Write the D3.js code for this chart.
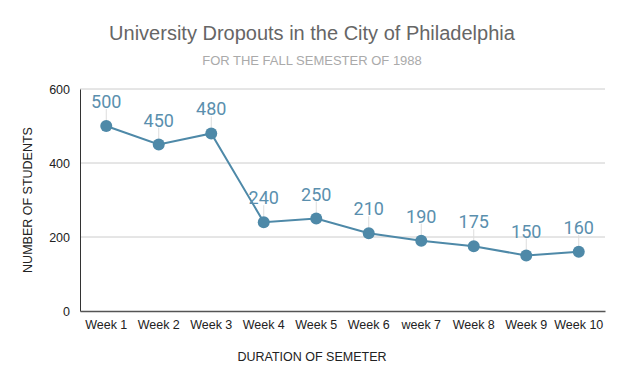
<!DOCTYPE html>
<html>
<head>
<meta charset="utf-8">
<script src="https://cdn.jsdelivr.net/npm/d3@7"></script>
<style>
  body { margin: 0; background: #fff; }
  svg { display: block; }
</style>
</head>
<body>
<div id="chart"></div>
<script>
// chart data
var weeks = ["Week 1", "Week 2", "Week 3", "Week 4", "Week 5", "Week 6", "week 7", "Week 8", "Week 9", "Week 10"];
var dropouts = [500, 450, 480, 240, 250, 210, 190, 175, 150, 160];
var yTicks = [0, 200, 400, 600];

var svgWidth = 624, svgHeight = 385;
var margin = { top: 89, right: 19, bottom: 74, left: 80 };
var width = svgWidth - margin.left - margin.right;
var height = svgHeight - margin.top - margin.bottom;

var svg = d3.select("#chart").append("svg")
  .attr("width", svgWidth)
  .attr("height", svgHeight);

// titles
svg.append("text")
  .attr("x", 312).attr("y", 40)
  .attr("text-anchor", "middle")
  .style("font-family", "Arial, 'Liberation Sans', sans-serif")
  .style("font-size", "20px")
  .style("fill", "#666")
  .text("University Dropouts in the City of Philadelphia");

svg.append("text")
  .attr("x", 312).attr("y", 65)
  .attr("text-anchor", "middle")
  .style("font-family", "Arial, 'Liberation Sans', sans-serif")
  .style("font-size", "13px")
  .style("fill", "#aaa")
  .text("FOR THE FALL SEMESTER OF 1988");

var chartGroup = svg.append("g")
  .attr("transform", `translate(${margin.left}, ${margin.top})`);

var x = d3.scaleBand().domain(weeks).range([0, width]);
var y = d3.scaleLinear().domain([0, 600]).range([height, 0]);

// gridlines
chartGroup.selectAll(".grid")
  .data(yTicks.filter(d => d > 0))
  .enter().append("line")
  .attr("x1", 0).attr("x2", width)
  .attr("y1", d => y(d)).attr("y2", d => y(d))
  .attr("stroke", "#ccc").attr("stroke-width", 1);

// y axis
var leftAxis = d3.axisLeft(y).tickValues(yTicks).tickSize(0).tickPadding(10);
var yAxis = chartGroup.append("g").call(leftAxis);
yAxis.select(".domain").attr("stroke", "#333");
yAxis.selectAll("text")
  .style("font-family", "Arial, 'Liberation Sans', sans-serif")
  .style("font-size", "12.5px")
  .style("fill", "#222");

// x axis
var bottomAxis = d3.axisBottom(x).tickSize(0).tickPadding(9);
var xAxis = chartGroup.append("g")
  .attr("transform", `translate(0, ${height})`)
  .call(bottomAxis);
xAxis.select(".domain").attr("stroke", "#555").attr("stroke-width", 1.5);
xAxis.selectAll("text")
  .style("font-family", "Arial, 'Liberation Sans', sans-serif")
  .style("font-size", "12.5px")
  .style("fill", "#222");

// axis titles
svg.append("text")
  .attr("x", 312).attr("y", 361)
  .attr("text-anchor", "middle")
  .style("font-family", "Arial, 'Liberation Sans', sans-serif")
  .style("font-size", "12.5px")
  .style("fill", "#222")
  .text("DURATION OF SEMETER");

svg.append("text")
  .attr("transform", "translate(32, 200) rotate(-90)")
  .attr("text-anchor", "middle")
  .style("font-family", "Arial, 'Liberation Sans', sans-serif")
  .style("font-size", "12.5px")
  .style("fill", "#222")
  .text("NUMBER OF STUDENTS");

var cx = d => x(d) + x.bandwidth() / 2;

// line
var line = d3.line()
  .x((d, i) => cx(weeks[i]))
  .y(d => y(d));

chartGroup.append("path")
  .datum(dropouts)
  .attr("d", line)
  .attr("fill", "none")
  .attr("stroke", "#4e89a8")
  .attr("stroke-width", 2);

// leader lines
chartGroup.selectAll(".leader")
  .data(dropouts)
  .enter().append("line")
  .attr("x1", (d, i) => cx(weeks[i])).attr("x2", (d, i) => cx(weeks[i]))
  .attr("y1", d => y(d) - 17).attr("y2", d => y(d) - 6)
  .attr("stroke", "#ddd").attr("stroke-width", 1);

// points
chartGroup.selectAll(".dot")
  .data(dropouts)
  .enter().append("circle")
  .attr("cx", (d, i) => cx(weeks[i]))
  .attr("cy", d => y(d))
  .attr("r", 6)
  .attr("fill", "#4e89a8");

// value labels
chartGroup.selectAll(".val")
  .data(dropouts)
  .enter().append("text")
  .attr("x", (d, i) => cx(weeks[i]))
  .attr("y", d => y(d) - 18)
  .attr("text-anchor", "middle")
  .style("font-family", "Roboto, sans-serif")
  .style("font-size", "18px")
  .style("fill", "#5a8fae")
  .text(d => d);
</script>
</body>
</html>
